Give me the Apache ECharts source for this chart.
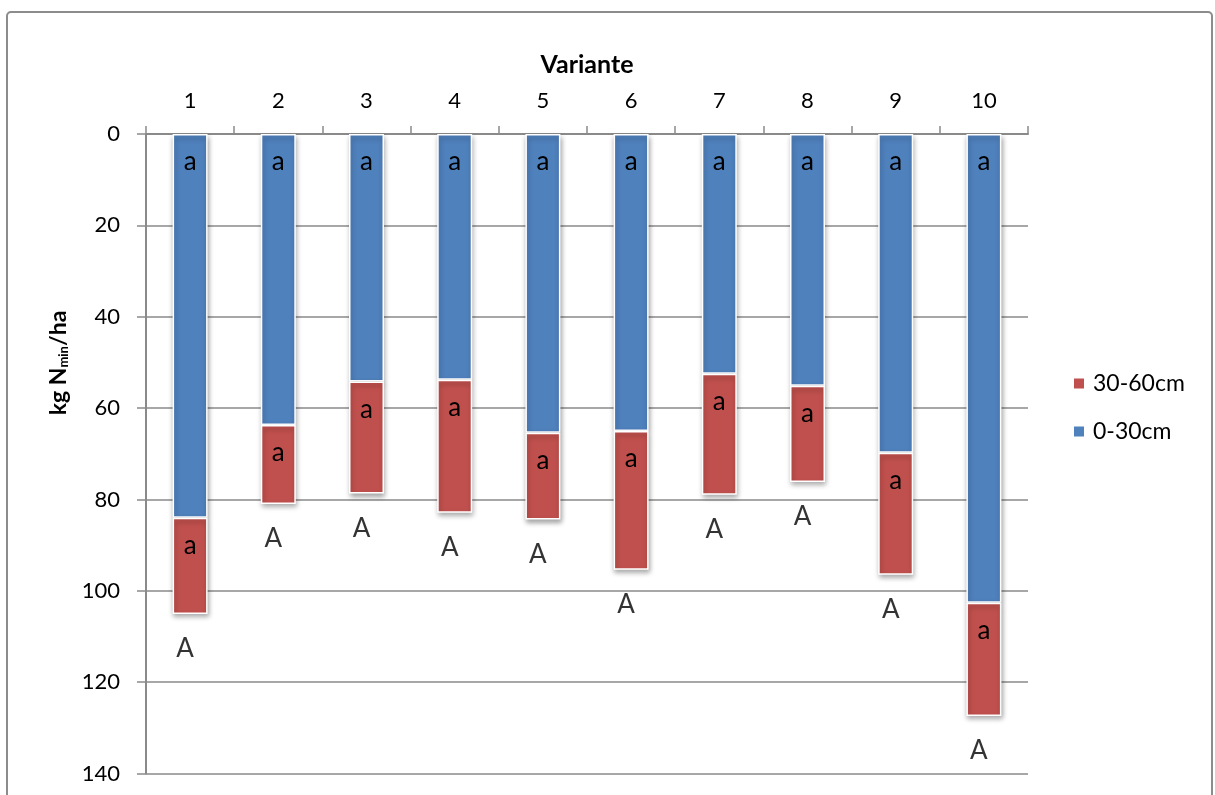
<!DOCTYPE html>
<html>
<head>
<meta charset="utf-8">
<script src="https://cdn.jsdelivr.net/npm/echarts@6/dist/echarts.min.js"></script>
<style>
  html, body { margin: 0; padding: 0; background: #ffffff; }
  #chart { width: 1215px; height: 795px; }
</style>
</head>
<body>
<div id="chart"></div>
<script>
// Nmin per variant, split by soil depth (kg N/ha)
const categories = ['1', '2', '3', '4', '5', '6', '7', '8', '9', '10'];
const topsoil = [84.0, 63.7, 54.2, 53.8, 65.4, 65.0, 52.5, 55.1, 69.8, 102.6];   // 0-30cm
const subsoil = [21.1, 17.3, 24.5, 29.1, 19.0, 30.4, 26.5, 21.1, 26.7, 24.8];    // 30-60cm
// significance letters
const topsoilLetters = ['a', 'a', 'a', 'a', 'a', 'a', 'a', 'a', 'a', 'a'];
const subsoilLetters = ['a', 'a', 'a', 'a', 'a', 'a', 'a', 'a', 'a', 'a'];
const totalLetters = ['A', 'A', 'A', 'A', 'A', 'A', 'A', 'A', 'A', 'A'];
const yTicks = [0, 20, 40, 60, 80, 100, 120, 140];

const totals = topsoil.map((v, i) => +(v + subsoil[i]).toFixed(1));

const FONT = 'Lato';
const GRID = '#8a8a8a';
const BLUE = '#4F81BD';
const RED = '#C0504D';

const barStyle = (color) => ({
  color: color,
  borderColor: '#ffffff',
  borderWidth: 1.5,
  shadowColor: 'rgba(0,0,0,0.35)',
  shadowBlur: 5,
  shadowOffsetX: 1,
  shadowOffsetY: 3
});

const letterLabel = (letters) => ({
  show: true,
  position: 'insideTop',
  distance: 15,
  fontFamily: FONT,
  fontSize: 26,
  color: '#000000',
  formatter: (p) => letters[p.dataIndex]
});

const chart = echarts.init(document.getElementById('chart'));
chart.setOption({
  backgroundColor: '#ffffff',
  animation: false,
  grid: { left: 146, right: 187, top: 134, bottom: 21.5 },
  graphic: [
    {
      type: 'rect',
      shape: { x: 7, y: 12, width: 1205, height: 800, r: 4 },
      style: { fill: 'none', stroke: '#8c8c8c', lineWidth: 2 },
      silent: true
    },
    {
      type: 'text',
      x: 57,
      y: 363,
      rotation: Math.PI / 2,
      style: {
        text: '{b|kg N}{s|min}{b|/ha}',
        align: 'center',
        verticalAlign: 'middle',
        rich: {
          b: { fontFamily: FONT, fontSize: 23, fontWeight: 'bold', color: '#000', verticalAlign: 'bottom', lineHeight: 26 },
          s: { fontFamily: FONT, fontSize: 13, fontWeight: 'bold', color: '#000', verticalAlign: 'bottom', lineHeight: 26 }
        }
      }
    }
  ],
  legend: {
    orient: 'vertical',
    left: 1072,
    top: 372,
    padding: 0,
    itemWidth: 12,
    itemHeight: 12,
    itemGap: 25,
    icon: 'rect',
    data: ['30-60cm', '0-30cm'],
    textStyle: { fontFamily: FONT, fontSize: 23, color: '#000', padding: [0, 0, 0, 3] }
  },
  xAxis: {
    type: 'category',
    position: 'top',
    data: categories,
    name: 'Variante',
    nameLocation: 'middle',
    nameGap: 57,
    nameTextStyle: { fontFamily: FONT, fontSize: 25, fontWeight: 'bold', color: '#000' },
    axisLine: { show: true, lineStyle: { color: GRID, width: 2 } },
    axisTick: { show: true, inside: false, length: 8, lineStyle: { color: GRID, width: 1.5 } },
    axisLabel: { fontFamily: FONT, fontSize: 22, color: '#000', margin: 22 },
    splitLine: { show: false }
  },
  yAxis: {
    type: 'value',
    inverse: true,
    min: 0,
    max: 140,
    interval: 20,
    axisLine: { show: true, lineStyle: { color: GRID, width: 2 } },
    axisTick: { show: true, inside: false, length: 9, lineStyle: { color: GRID, width: 1.5 } },
    axisLabel: {
      fontFamily: FONT, fontSize: 22, color: '#000', margin: 26,
      formatter: (v) => (yTicks.indexOf(v) >= 0 ? String(v) : '')
    },
    splitLine: { show: true, lineStyle: { color: GRID, width: 1.5 } }
  },
  series: [
    {
      name: '0-30cm',
      type: 'bar',
      stack: 'depth',
      barWidth: 35,
      data: topsoil,
      itemStyle: barStyle(BLUE),
      label: letterLabel(topsoilLetters),
      z: 2
    },
    {
      name: '30-60cm',
      type: 'bar',
      stack: 'depth',
      barWidth: 35,
      data: subsoil,
      itemStyle: barStyle(RED),
      label: letterLabel(subsoilLetters),
      z: 3
    },
    {
      name: 'total',
      type: 'scatter',
      data: totals,
      symbolSize: 0,
      silent: true,
      label: {
        show: true,
        position: 'bottom',
        distance: 22,
        offset: [-5, 0],
        fontFamily: FONT,
        fontSize: 26,
        color: '#000',
        formatter: (p) => totalLetters[p.dataIndex]
      },
      z: 4
    }
  ]
});
</script>
</body>
</html>
